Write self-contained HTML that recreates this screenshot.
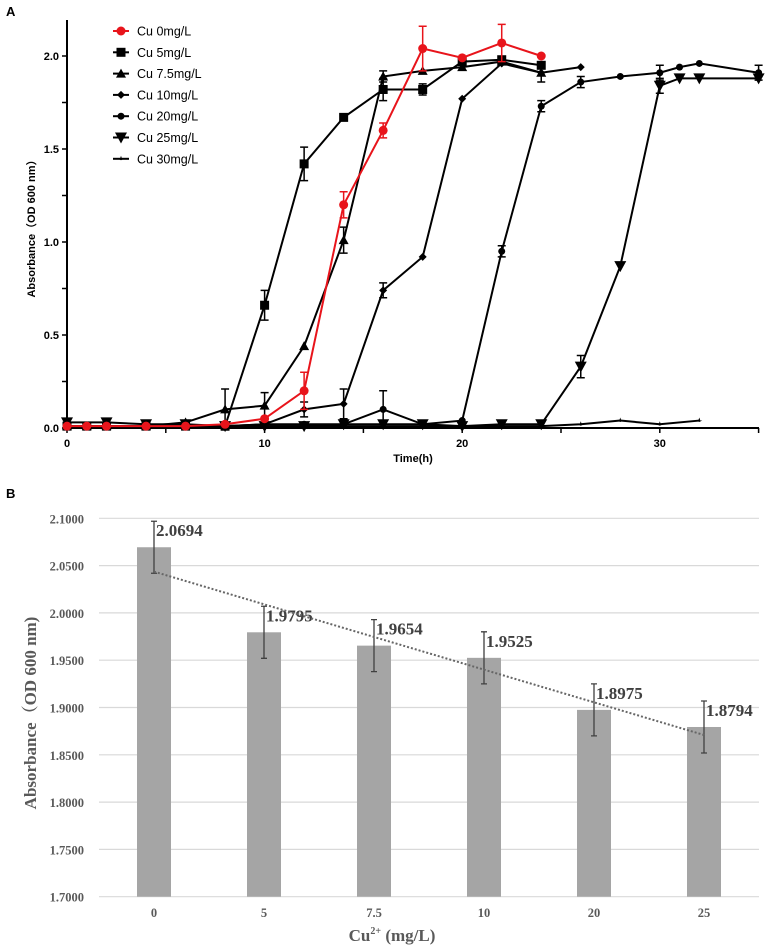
<!DOCTYPE html>
<html><head><meta charset="utf-8"><style>
body{margin:0;background:#fff;}
svg{display:block;}
</style></head><body>
<svg id="s" width="767" height="950" xmlns="http://www.w3.org/2000/svg">
<text x="6" y="16" font-family="Liberation Sans, sans-serif" font-weight="bold" font-size="13">A</text>
<text x="6" y="498" font-family="Liberation Sans, sans-serif" font-weight="bold" font-size="13">B</text>
<g id="gA"></g>
<g id="gB"></g>
</svg>
<script>
// ---- Chart A data ----
const seriesNames = ["Cu 0mg/L","Cu 5mg/L","Cu 7.5mg/L","Cu 10mg/L","Cu 20mg/L","Cu 25mg/L","Cu 30mg/L"];
const t0 = [0,1,2,4,6,8,10,12,14,16,18,20,22,24];
const v0 = [0.01,0.01,0.01,0.01,0.01,0.02,0.05,0.2,1.2,1.6,2.04,1.99,2.07,2.0];
const e0 = [0,0,0,0,0,0,0,0.1,0.07,0.04,0.12,0,0.1,0];
const t5 = [0,1,2,4,6,8,10,12,14,16,18,20,22,24];
const v5 = [0.01,0.01,0.01,0.01,0.01,0.01,0.66,1.42,1.67,1.82,1.82,1.97,1.98,1.95];
const e5 = [0,0,0,0,0,0,0.08,0.09,0,0.06,0.03,0,0,0];
const t75 = [0,1,2,4,6,8,10,12,14,16,18,20,22,24];
const v75 = [0.01,0.01,0.01,0.01,0.03,0.1,0.12,0.44,1.01,1.89,1.92,1.94,1.97,1.91];
const e75 = [0,0,0,0,0,0.11,0.07,0,0.07,0.03,0,0,0,0.05];
const t10 = [0,2,4,6,8,10,12,14,16,18,20,22,24,26];
const v10 = [0.01,0.01,0.01,0.01,0.01,0.02,0.1,0.13,0.74,0.92,1.77,1.96,1.91,1.94];
const e10 = [0,0,0,0,0,0,0.04,0.08,0.04,0,0,0,0,0];
const t20 = [0,4,8,10,12,14,16,18,20,22,24,26,28,30,31,32,35];
const v20 = [0.01,0.01,0.01,0.02,0.02,0.02,0.1,0.02,0.04,0.95,1.73,1.86,1.89,1.91,1.94,1.96,1.91];
const e20 = [0,0,0,0,0,0,0.1,0,0,0.03,0.03,0.03,0,0.04,0,0,0.04];
const t25 = [0,2,4,6,8,10,12,14,16,18,20,22,24,26,28,30,31,32,35];
const v25 = [0.03,0.03,0.02,0.02,0.01,0.01,0.01,0.02,0.02,0.02,0.01,0.02,0.02,0.33,0.87,1.84,1.88,1.88,1.88];
const e25 = [0,0,0,0,0,0,0,0,0,0,0,0,0,0.06,0,0.04,0,0,0];
const t30 = [0,4,8,12,16,20,24,26,28,30,32];
const v30 = [0.01,0.01,0.01,0.01,0.01,0.01,0.01,0.02,0.04,0.02,0.04];
const xTicksA = [0,10,20,30];
const yTicksA = ["0.0","0.5","1.0","1.5","2.0"];

// ---- Chart B data ----
const categories = ["0","5","7.5","10","20","25"];
const barValues = [2.0694,1.9795,1.9654,1.9525,1.8975,1.8794];
const barErrors = [0.0275,0.0275,0.0275,0.0275,0.0275,0.0275];
const yTicksB = [1.7,1.75,1.8,1.85,1.9,1.95,2.0,2.05,2.1];

const NS="http://www.w3.org/2000/svg";
function mk(parent,tag,attrs,text){const e=document.createElementNS(NS,tag);for(const k in attrs)e.setAttribute(k,attrs[k]);if(text!==undefined)e.textContent=text;parent.appendChild(e);return e;}

// ===== Chart A =====
const gA=document.getElementById('gA');
const xA=t=>67+t*19.76;
const yA=v=>428-v*186;
const axA=mk(gA,'g',{});


mk(axA,'line',{x1:67,y1:20,x2:67,y2:429,stroke:'#000','stroke-width':2});
mk(axA,'line',{x1:66,y1:428,x2:759,y2:428,stroke:'#000','stroke-width':2});
for(let t=0;t<=35;t+=5){mk(axA,'line',{x1:xA(t),y1:428,x2:xA(t),y2:433,stroke:'#000','stroke-width':1.5});}
xTicksA.forEach(t=>{const e=mk(axA,'text',{x:xA(t),y:447,'text-anchor':'middle','font-family':'Liberation Sans, sans-serif','font-weight':'bold','font-size':11},String(t));});
for(let v=0;v<=2.0001;v+=0.25){mk(axA,'line',{x1:62,y1:yA(v),x2:67,y2:yA(v),stroke:'#000','stroke-width':1.5});}
yTicksA.forEach(s=>{const e=mk(axA,'text',{x:59,y:yA(parseFloat(s))+4,'text-anchor':'end','font-family':'Liberation Sans, sans-serif','font-weight':'bold','font-size':11},s);});
let tt=mk(axA,'text',{x:413,y:462,'text-anchor':'middle','font-family':'Liberation Sans, sans-serif','font-weight':'bold','font-size':11},'Time(h)');

tt=mk(axA,'text',{x:0,y:0,transform:'translate(35,226) rotate(-90)','text-anchor':'middle','font-family':'Liberation Sans, "Noto Sans CJK SC", sans-serif','font-weight':'bold','font-size':11},'Absorbance（OD 600 nm）');


function marker(g,type,x,y,c){
  if(type==='circle')mk(g,'circle',{cx:x,cy:y,r:4.5,fill:c});
  else if(type==='square')mk(g,'rect',{x:x-4.5,y:y-4.5,width:9,height:9,fill:c});
  else if(type==='tri')mk(g,'polygon',{points:`${x},${y-5} ${x-5},${y+4} ${x+5},${y+4}`,fill:c});
  else if(type==='diamond')mk(g,'polygon',{points:`${x},${y-4} ${x-4},${y} ${x},${y+4} ${x+4},${y}`,fill:c});
  else if(type==='dot')mk(g,'circle',{cx:x,cy:y,r:3.5,fill:c});
  else if(type==='tridown')mk(g,'polygon',{points:`${x-6},${y-5} ${x+6},${y-5} ${x},${y+6}`,fill:c});
  else if(type==='star')mk(g,'polygon',{points:`${x},${y-3} ${x+1},${y} ${x+3},${y} ${x},${y+1.5} ${x-3},${y} ${x-1},${y}`,fill:c});
}
const allSeries=[[t0,v0,e0,'circle','#e8141b','series-cu-0'],[t5,v5,e5,'square','#000','series-cu-5'],[t75,v75,e75,'tri','#000','series-cu-7-5'],[t10,v10,e10,'diamond','#000','series-cu-10'],[t20,v20,e20,'dot','#000','series-cu-20'],[t25,v25,e25,'tridown','#000','series-cu-25'],[t30,v30,null,'star','#000','series-cu-30']];
const drawOrder=[6,5,4,3,2,1,0];
drawOrder.forEach(i=>{
  const [ts,vs,es,m,c,nm]=allSeries[i];
  const g=mk(gA,'g',{});
  
  
  mk(g,'polyline',{points:ts.map((t,j)=>xA(t)+','+yA(vs[j])).join(' '),fill:'none',stroke:c,'stroke-width':2});
  if(es)ts.forEach((t,j)=>{if(es[j]>0){const x=xA(t);mk(g,'path',{d:`M${x},${yA(vs[j]-es[j])}V${yA(vs[j]+es[j])}M${x-4},${yA(vs[j]+es[j])}H${x+4}M${x-4},${yA(vs[j]-es[j])}H${x+4}`,stroke:c,'stroke-width':1.5,fill:'none'});}});
  ts.forEach((t,j)=>marker(g,m,xA(t),yA(vs[j]),c));
});
// legend
const lg=mk(gA,'g',{});


seriesNames.forEach((n,i)=>{
  const y=31+i*21.3;const s=allSeries[i];
  const e=mk(lg,'g',{});
  
  
  mk(e,'line',{x1:113,y1:y,x2:129,y2:y,stroke:s[4],'stroke-width':2});
  marker(e,s[3],121,y,s[4]);
  mk(e,'text',{x:137,y:y+4.5,'font-family':'Liberation Sans, sans-serif','font-size':12.5,fill:'#000'},n);
});

// ===== Chart B =====
const gB=document.getElementById('gB');
const yB=v=>896.7-(v-1.7)*946;
const xB=i=>154+i*110;
yTicksB.forEach(v=>{
  const l=mk(gB,'line',{x1:99,y1:yB(v),x2:759,y2:yB(v),stroke:'#d9d9d9','stroke-width':1.2});
  
  const e=mk(gB,'text',{x:84,y:yB(v)+5,'text-anchor':'end','font-family':'Liberation Serif, serif','font-weight':'bold','font-size':12.5,fill:'#595959'},v.toFixed(4));
  
});
categories.forEach((c,i)=>{
  const v=barValues[i],x=xB(i),er=barErrors[i];
  const b=mk(gB,'rect',{x:x-17,y:yB(v),width:34,height:yB(1.7)-yB(v),fill:'#a5a5a5'});
  
  const eb=mk(gB,'path',{d:`M${x},${yB(v-er)}V${yB(v+er)}M${x-3},${yB(v+er)}H${x+3}M${x-3},${yB(v-er)}H${x+3}`,stroke:'#404040','stroke-width':1.3,fill:'none'});
  
  const lb=mk(gB,'text',{x:x+2,y:yB(v+er)+15,'font-family':'Liberation Serif, serif','font-weight':'bold','font-size':17,fill:'#404040'},v.toFixed(4));
  
  const xl=mk(gB,'text',{x:x,y:917,'text-anchor':'middle','font-family':'Liberation Serif, serif','font-weight':'bold','font-size':12.5,fill:'#595959'},c);
  
});
// linear trendline
const n=barValues.length;let mx=(n-1)/2,my=barValues.reduce((a,b)=>a+b)/n,sxy=0,sxx=0;
barValues.forEach((v,i)=>{sxy+=(i-mx)*(v-my);sxx+=(i-mx)*(i-mx);});
const slope=sxy/sxx,icpt=my-slope*mx;
const tl=mk(gB,'line',{x1:xB(0),y1:yB(icpt),x2:xB(n-1),y2:yB(icpt+slope*(n-1)),stroke:'#666','stroke-width':2,'stroke-dasharray':'2,2'});

let bt=mk(gB,'text',{x:0,y:0,transform:'translate(36,713) rotate(-90)','text-anchor':'middle','font-family':'Liberation Serif, "Noto Serif CJK SC", serif','font-weight':'bold','font-size':17,fill:'#595959'},'Absorbance（OD 600 nm)');

bt=mk(gB,'text',{x:392,y:941,'text-anchor':'middle','font-family':'Liberation Serif, serif','font-weight':'bold','font-size':17,fill:'#595959'});

bt.innerHTML='Cu<tspan dy="-7" font-size="10">2+</tspan><tspan dy="7"> (mg/L)</tspan>';
</script>
</body></html>
